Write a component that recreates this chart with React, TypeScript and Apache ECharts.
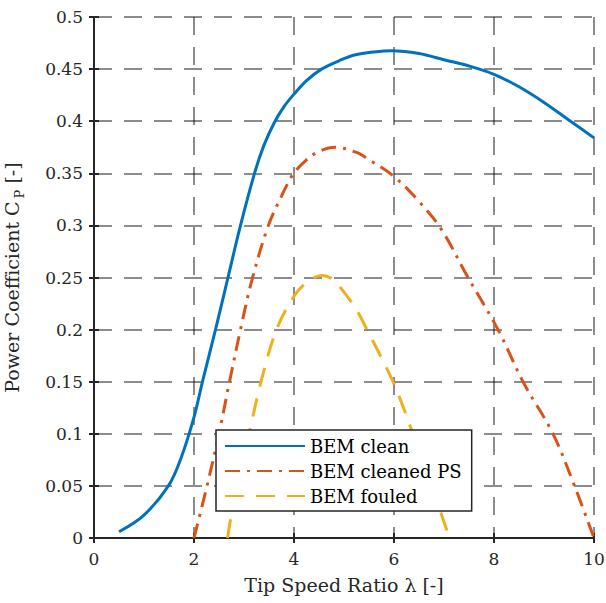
import React, { useEffect, useRef } from "react";
import * as echarts from "echarts";

const cleanX = [0.5, 1, 1.5, 1.75, 2, 2.17, 2.43, 2.68, 2.93, 3.21, 3.4, 3.61, 3.8, 4, 4.25, 4.55, 4.9, 5.21, 5.6, 5.96, 6.5, 7, 7.5, 8, 8.5, 9, 9.5, 10];
const cleanY = [0.006, 0.022, 0.051, 0.078, 0.116, 0.15, 0.2, 0.25, 0.3, 0.35, 0.377, 0.399, 0.414, 0.426, 0.439, 0.45, 0.458, 0.4635, 0.4665, 0.4677, 0.465, 0.459, 0.453, 0.445, 0.433, 0.418, 0.401, 0.384];

const psX = [2, 2.25, 2.5, 2.71, 2.93, 3.15, 3.48, 3.75, 3.98, 4.25, 4.5, 4.82, 5.25, 5.5, 6, 6.5, 6.95, 7.48, 8.08, 8.58, 9.18, 9.61, 10];
const psY = [0, 0.048, 0.1, 0.15, 0.2, 0.246, 0.299, 0.328, 0.349, 0.363, 0.371, 0.375, 0.37, 0.363, 0.347, 0.323, 0.296, 0.25, 0.2, 0.15, 0.1, 0.05, 0];

const fouledX = [2.67, 2.85, 3.1, 3.34, 3.65, 4, 4.25, 4.55, 4.75, 5, 5.25, 5.46, 5.98, 6.38, 6.75, 7.11];
const fouledY = [0, 0.05, 0.1, 0.15, 0.2, 0.232, 0.245, 0.252, 0.249, 0.236, 0.219, 0.2, 0.15, 0.1, 0.05, 0];

const seriesNames = ["BEM clean", "BEM cleaned PS", "BEM fouled"];
const xTicks = { min: 0, max: 10, interval: 2 };
const yTicks = { min: 0, max: 0.5, interval: 0.05 };

const FONT = "DejaVu Serif";
const AXIS_COLOR = "#262626";

const zip = (xs: number[], ys: number[]) => xs.map((x, i) => [x, ys[i]]);

export default function App() {
  const ref = useRef<HTMLDivElement>(null);
  useEffect(() => {
    if (!ref.current) return;
    const chart = echarts.init(ref.current, undefined, { renderer: "svg" });
    const axisLine = { show: true, lineStyle: { color: AXIS_COLOR, width: 2 } };
    const axisTick = { show: true, inside: true, length: 5, lineStyle: { color: AXIS_COLOR, width: 2 } };
    const splitLine = { show: true, lineStyle: { color: "rgba(0,0,0,0.45)", width: 2, type: [18, 12] } };
    chart.setOption({
      animation: false,
      backgroundColor: "#ffffff",
      grid: { left: 94, right: 12, top: 17, bottom: 65, containLabel: false, outerBoundsMode: "none" },
      legend: {
        orient: "vertical",
        left: 216,
        top: 430,
        data: seriesNames,
        itemWidth: 80,
        itemHeight: 14,
        itemGap: 5,
        padding: [6, 10, 5, 8],
        backgroundColor: "#ffffff",
        borderColor: AXIS_COLOR,
        borderWidth: 1.5,
        borderRadius: 0,
        itemStyle: { opacity: 0 },
        textStyle: { fontFamily: FONT, fontSize: 18, color: "#000", lineHeight: 20 },
      },
      xAxis: [
        {
          type: "value",
          ...xTicks,
          name: "Tip Speed Ratio λ [-]",
          nameLocation: "middle",
          nameGap: 37,
          nameTextStyle: { fontFamily: FONT, fontSize: 19, color: "#262626" },
          axisLine,
          axisTick,
          axisLabel: { fontFamily: FONT, fontSize: 17, color: "#262626", margin: 12 },
          splitLine,
        },
        {
          type: "value",
          position: "top",
          ...xTicks,
          axisLine,
          axisTick,
          axisLabel: { show: false },
          splitLine: { show: false },
        },
      ],
      yAxis: [
        {
          type: "value",
          ...yTicks,
          name: "{n|Power Coefficient C}{s|P}{n| [-]}",
          nameLocation: "middle",
          nameGap: 70,
          nameRotate: 90,
          nameTextStyle: {
            fontFamily: FONT,
            fontSize: 19,
            color: "#262626",
            rich: {
              n: { fontFamily: FONT, fontSize: 19, color: "#262626", lineHeight: 24 },
              s: { fontFamily: FONT, fontSize: 13, color: "#262626", lineHeight: 24, padding: [14, 0, 0, 3] },
            },
          },
          axisLine,
          axisTick,
          axisLabel: { fontFamily: FONT, fontSize: 17, color: "#262626", margin: 11 },
          splitLine,
        },
        {
          type: "value",
          position: "right",
          ...yTicks,
          axisLine,
          axisTick,
          axisLabel: { show: false },
          splitLine: { show: false },
        },
      ],
      series: [
        {
          name: seriesNames[0],
          type: "line",
          data: zip(cleanX, cleanY),
          smooth: 0.35,
          symbol: "none",
          lineStyle: { color: "#0072BD", width: 3 },
          itemStyle: { color: "#0072BD" },
        },
        {
          name: seriesNames[1],
          type: "line",
          data: zip(psX, psY),
          smooth: 0.35,
          symbol: "none",
          lineStyle: { color: "#D95319", width: 3, type: [15, 7, 3, 7] },
          itemStyle: { color: "#D95319" },
        },
        {
          name: seriesNames[2],
          type: "line",
          data: zip(fouledX, fouledY),
          smooth: 0.35,
          symbol: "none",
          lineStyle: { color: "#EDB120", width: 3, type: [19, 12] },
          itemStyle: { color: "#EDB120" },
        },
      ],
    });
    return () => chart.dispose();
  }, []);
  return <div ref={ref} style={{ width: 606, height: 603, position: "absolute", left: 0, top: 0 }} />;
}
